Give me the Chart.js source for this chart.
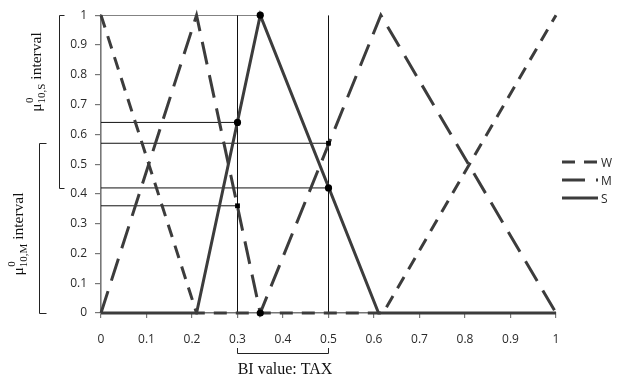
<!DOCTYPE html>
<html>
<head>
<meta charset="utf-8">
<script src="https://cdn.jsdelivr.net/npm/chart.js@4/dist/chart.umd.min.js"></script>
<style>
  html, body { margin: 0; padding: 0; background: #fff; }
  #wrap { width: 619px; height: 378px; }
</style>
</head>
<body>
<div id="wrap"><canvas id="c" width="619" height="378"></canvas></div>
<script>
// Tick labels
const xTickLabels = ['0', '0.1', '0.2', '0.3', '0.4', '0.5', '0.6', '0.7', '0.8', '0.9', '1'];
const yTickLabels = ['0', '0.1', '0.2', '0.3', '0.4', '0.5', '0.6', '0.7', '0.8', '0.9', '1'];

// Membership functions (BI value -> membership)
const seriesNames = ['W', 'M', 'S'];
const wX = [0, 0.21, 0.62, 1];
const wY = [1, 0, 0, 1];
const mX = [0, 0.21, 0.35, 0.615, 1];
const mY = [0, 1, 0, 1, 0];
const sX = [0, 0.21, 0.35, 0.61, 1];
const sY = [0, 0, 1, 0, 0];

// Read-off lines at the interval bounds of TAX
const cutX = [0.3, 0.5];
const sAtCut = [0.64, 0.42];
const mAtCut = [0.36, 0.57];
const peakX = 0.35;

// Bracketed membership intervals on the left
const sInterval = [0.42, 1];
const mInterval = [0, 0.57];

const INK = '#3c3c3c';
const toPts = (xs, ys) => xs.map((x, i) => ({ x: x, y: ys[i] }));

function guide(points) {
  return {
    type: 'line', data: points, borderColor: '#111', borderWidth: 1,
    pointRadius: 0, fill: false, tension: 0, order: 5
  };
}

const guides = [];
guides.push(guide([{ x: 0, y: 1 }, { x: peakX, y: 1 }]));
cutX.forEach((cx, i) => {
  guides.push(guide([{ x: cx, y: 0 }, { x: cx, y: 1 }]));
  guides.push(guide([{ x: 0, y: sAtCut[i] }, { x: cx, y: sAtCut[i] }]));
  guides.push(guide([{ x: 0, y: mAtCut[i] }, { x: cx, y: mAtCut[i] }]));
});

const circleMarks = [{ x: peakX, y: 1 }, { x: peakX, y: 0 }]
  .concat(cutX.map((cx, i) => ({ x: cx, y: sAtCut[i] })));
const squareMarks = cutX.map((cx, i) => ({ x: cx, y: mAtCut[i] }));

const dashes = { W: [13, 9], M: [23, 11], S: [] };

const datasets = [
  { type: 'scatter', data: circleMarks, pointStyle: 'circle', pointRadius: 3.6,
    backgroundColor: '#000', borderColor: '#000', borderWidth: 0, clip: false, order: 0 },
  { type: 'scatter', data: squareMarks, pointStyle: 'rect', pointRadius: 3.4,
    backgroundColor: '#000', borderColor: '#000', borderWidth: 0, clip: false, order: 0 },
  { label: 'S', type: 'line', data: toPts(sX, sY), borderColor: INK, borderWidth: 3,
    borderDash: dashes.S, pointRadius: 0, tension: 0, fill: false, clip: false, order: 1 },
  { label: 'M', type: 'line', data: toPts(mX, mY), borderColor: INK, borderWidth: 3,
    borderDash: dashes.M, pointRadius: 0, tension: 0, fill: false, clip: false, order: 2 },
  { label: 'W', type: 'line', data: toPts(wX, wY), borderColor: INK, borderWidth: 3,
    borderDash: dashes.W, pointRadius: 0, tension: 0, fill: false, clip: false, order: 3 }
].concat(guides);

// Legend, side brackets and axis caption
const decorations = {
  id: 'decorations',
  afterDraw(chart) {
    const ctx = chart.ctx;
    const xs = chart.scales.x, ys = chart.scales.y;
    const area = chart.chartArea;
    ctx.save();

    // legend
    const lx0 = area.right + 6, lx1 = area.right + 42;
    const midY = ys.getPixelForValue(0.5);
    seriesNames.forEach((name, i) => {
      const y = midY - 2 + i * 18;
      ctx.beginPath();
      ctx.setLineDash(dashes[name]);
      ctx.lineWidth = 3;
      ctx.strokeStyle = INK;
      ctx.moveTo(lx0, y);
      ctx.lineTo(lx1, y);
      ctx.stroke();
      ctx.setLineDash([]);
      ctx.fillStyle = '#2a2a2a';
      ctx.font = '12px "Open Sans"';
      ctx.textAlign = 'left';
      ctx.textBaseline = 'middle';
      ctx.fillText(name, lx1 + 3, y + 1);
    });

    // brackets
    ctx.strokeStyle = '#222';
    ctx.lineWidth = 1;
    function bracketV(x, v0, v1, serif) {
      const y0 = Math.round(ys.getPixelForValue(v0)) + 0.5;
      const y1 = Math.round(ys.getPixelForValue(v1)) + 0.5;
      ctx.beginPath();
      ctx.moveTo(x + serif, y0); ctx.lineTo(x, y0); ctx.lineTo(x, y1); ctx.lineTo(x + serif, y1);
      ctx.stroke();
    }
    bracketV(59.5, sInterval[0], sInterval[1], 5);
    bracketV(39.5, mInterval[0], mInterval[1], 7);

    const bx0 = xs.getPixelForValue(cutX[0]), bx1 = xs.getPixelForValue(cutX[1]);
    ctx.beginPath();
    ctx.moveTo(bx0, 348); ctx.lineTo(bx0, 353.5); ctx.lineTo(bx1, 353.5); ctx.lineTo(bx1, 348);
    ctx.stroke();

    ctx.fillStyle = '#111';
    ctx.font = '16px "Liberation Serif"';
    ctx.textAlign = 'center';
    ctx.textBaseline = 'middle';
    ctx.fillText('BI value: TAX', (bx0 + bx1) / 2 + 2, 370);

    function muLabel(cx, cy, sub) {
      ctx.save();
      ctx.translate(cx, cy);
      ctx.rotate(-Math.PI / 2);
      ctx.textAlign = 'left';
      ctx.textBaseline = 'alphabetic';
      const big = '15.5px "Liberation Serif"', small = '11px "Liberation Serif"';
      ctx.font = big;
      const wMu = ctx.measureText('\u03bc').width;
      const wInt = ctx.measureText(' interval').width;
      ctx.font = small;
      const wSub = ctx.measureText(sub).width;
      const wSup = ctx.measureText('0').width;
      const total = wMu + Math.max(wSub, wSup) + wInt;
      let x = -total / 2;
      ctx.font = big;
      ctx.fillText('\u03bc', x, 0);
      x += wMu;
      ctx.font = small;
      ctx.fillText('0', x + 0.5, -8);
      ctx.fillText(sub, x, 4);
      x += Math.max(wSub, wSup);
      ctx.font = big;
      ctx.fillText(' interval', x, 0);
      ctx.restore();
    }
    muLabel(41, 72, '10,S');
    muLabel(23, 234, '10,M');

    ctx.restore();
  }
};

const tickFont = { family: 'Open Sans', size: 12 };

new Chart(document.getElementById('c'), {
  type: 'line',
  data: { datasets: datasets },
  options: {
    responsive: false,
    animation: false,
    parsing: true,
    layout: { padding: { top: 14, right: 63, left: 0, bottom: 0 } },
    plugins: { legend: { display: false }, tooltip: { enabled: false } },
    scales: {
      x: {
        type: 'linear', min: 0, max: 1,
        afterFit(scale) { scale.height = 65; },
        ticks: {
          stepSize: 0.1, autoSkip: false, maxRotation: 0, padding: 14,
          color: '#2a2a2a', font: tickFont,
          callback: (v, i) => xTickLabels[i]
        },
        grid: { drawOnChartArea: false, drawTicks: true, tickLength: 5, color: '#777', lineWidth: 1.2 },
        border: { display: true, color: '#777', width: 1.6 }
      },
      y: {
        type: 'linear', min: 0, max: 1,
        afterFit(scale) { scale.width = 101; },
        ticks: {
          stepSize: 0.1, autoSkip: false, padding: 8,
          color: '#2a2a2a', font: tickFont,
          callback: (v, i) => yTickLabels[i]
        },
        grid: { drawOnChartArea: false, drawTicks: true, tickLength: 6, color: '#777', lineWidth: 1.2 },
        border: { display: true, color: '#777', width: 1.6 }
      }
    }
  },
  plugins: [decorations]
});
</script>
</body>
</html>
